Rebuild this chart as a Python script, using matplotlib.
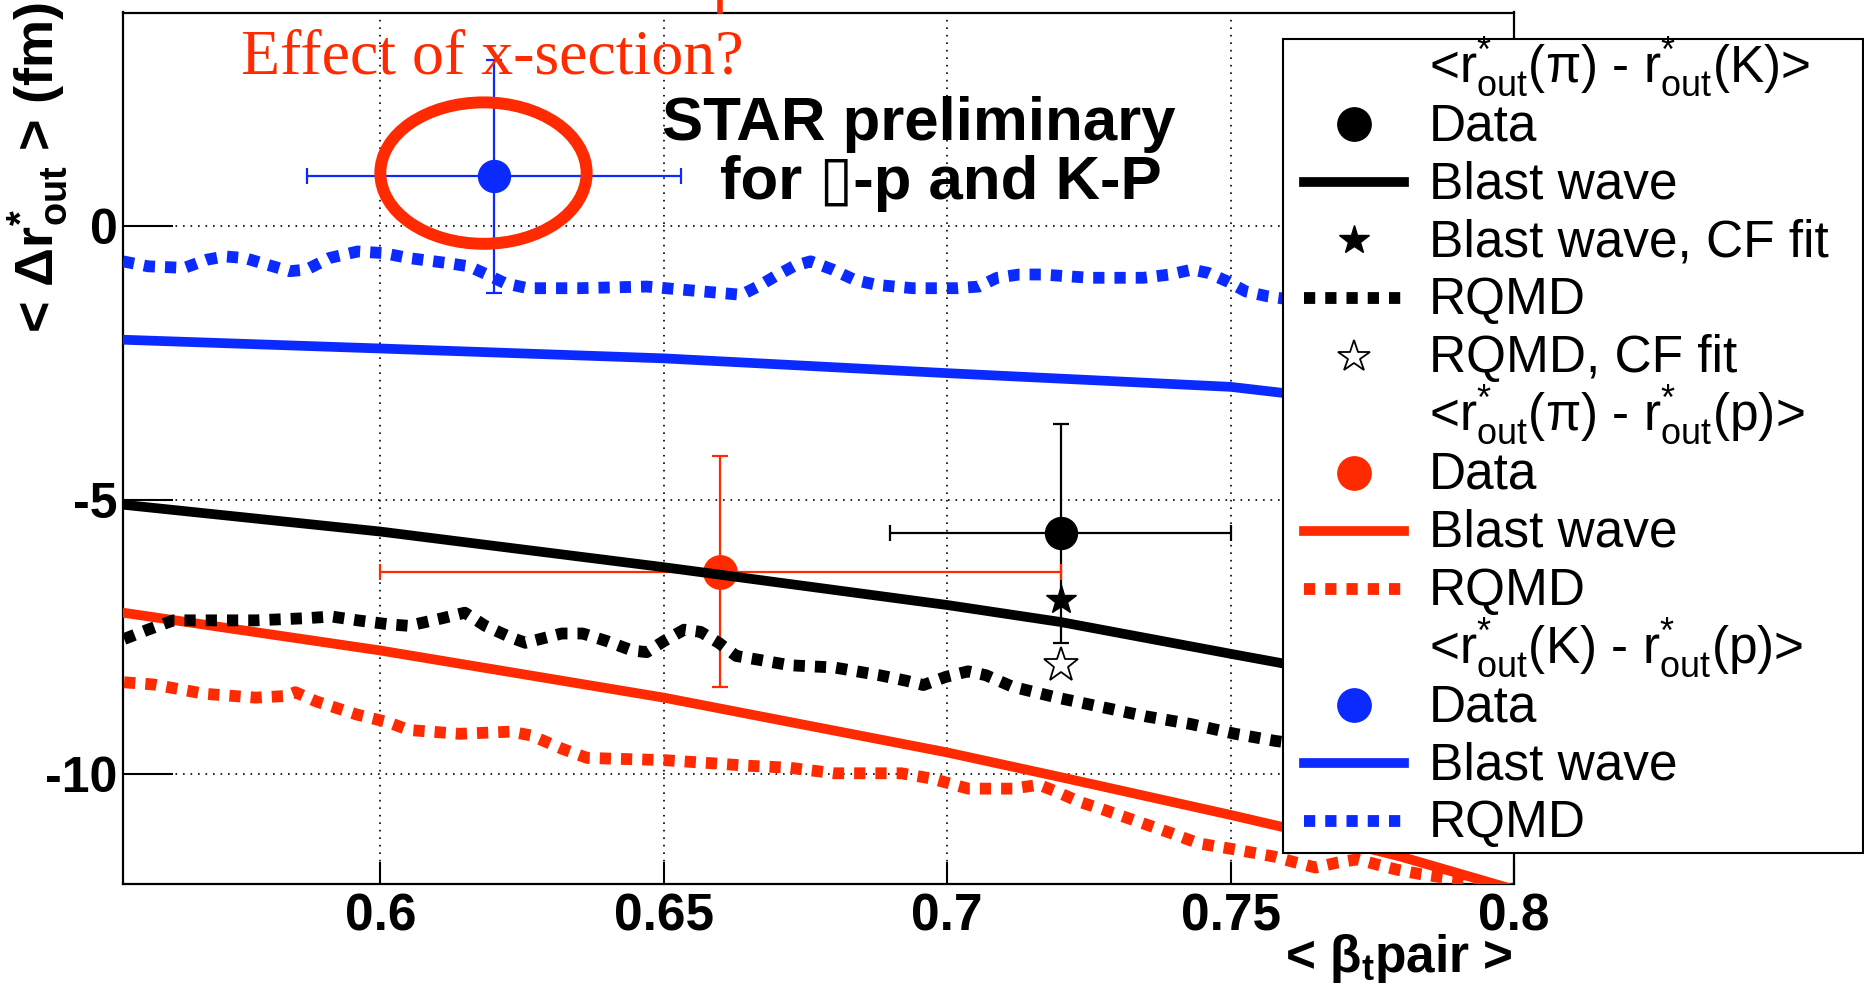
import matplotlib
matplotlib.use('Agg')
import matplotlib.pyplot as plt
from matplotlib.lines import Line2D
from matplotlib.patches import Ellipse, Rectangle

plt.rcParams['font.family'] = ['Liberation Sans', 'DejaVu Sans']
plt.rcParams['mathtext.fontset'] = 'custom'
plt.rcParams['mathtext.rm'] = 'Liberation Sans'
plt.rcParams['mathtext.bf'] = 'Liberation Sans:bold'
plt.rcParams['mathtext.it'] = 'Liberation Sans:italic'
plt.rcParams['axes.unicode_minus'] = False

RED = '#ff2a00'
BLUE = '#0a2aff'

# ---------------- data ----------------
# measured points: < beta_t pair >, < delta r*_out > (fm)
pik_x, pik_xerr, pik_y, pik_yerr = [0.72], [0.03], [-5.6], [2.0]
pip_x, pip_xerr, pip_y, pip_yerr = [0.66], [0.06], [-6.3], [2.1]
kp_x, kp_xerr, kp_y, kp_yerr = [0.62], [0.033], [0.91], [2.13]

# CF-fit results for pi-K
cf_x = [0.72]
bw_cf_y = [-6.82]
rqmd_cf_y = [-8.01]

# blast wave curves
bw_x = [0.5546, 0.60, 0.65, 0.70, 0.72, 0.75, 0.76, 0.78, 0.79, 0.80]
bw_pik = [-5.08, -5.57, -6.22, -6.91, -7.22, -7.80, -7.99, -8.35, -8.55, -8.80]
bw_pip = [-7.05, -7.74, -8.60, -9.60, -10.05, -10.74, -10.98, -11.50, -11.80, -12.10]
bw_kp = [-2.07, -2.23, -2.41, -2.68, -2.78, -2.93, -3.05, -3.15, -3.25, -3.35]

# RQMD curves
rq_kp_x = [0.5546, 0.559, 0.5654, 0.5694, 0.5725, 0.5761, 0.580, 0.584, 0.587, 0.591,
           0.596, 0.6006, 0.605, 0.6117, 0.6156, 0.6188, 0.622, 0.626, 0.635, 0.647,
           0.657, 0.6637, 0.6666, 0.6697, 0.6729, 0.6759, 0.6798, 0.6837, 0.6876, 0.6939,
           0.7017, 0.7056, 0.7088, 0.7127, 0.7166, 0.7252, 0.7346, 0.7393, 0.7432, 0.746,
           0.7495, 0.7527, 0.7566, 0.765]
rq_kp_y = [-0.64, -0.73, -0.76, -0.61, -0.55, -0.58, -0.70, -0.82, -0.79, -0.58,
           -0.46, -0.49, -0.58, -0.67, -0.73, -0.88, -1.04, -1.13, -1.13, -1.10,
           -1.19, -1.25, -1.10, -0.91, -0.73, -0.64, -0.79, -0.98, -1.07, -1.13,
           -1.13, -1.10, -0.94, -0.88, -0.88, -0.94, -0.94, -0.88, -0.79, -0.85,
           -1.01, -1.19, -1.28, -1.40]

rq_pik_x = [0.5548, 0.559, 0.5635, 0.569, 0.578, 0.587, 0.5914, 0.596, 0.6013, 0.605,
            0.611, 0.6149, 0.6185, 0.623, 0.6256, 0.632, 0.6357, 0.640, 0.6444, 0.647,
            0.650, 0.6536, 0.6565, 0.6597, 0.6628, 0.6668, 0.6723, 0.6801, 0.688, 0.6927,
            0.6958, 0.6998, 0.7037, 0.7068, 0.7115, 0.7194, 0.7272, 0.735, 0.7429, 0.7508,
            0.7579, 0.766]
rq_pik_y = [-7.53, -7.36, -7.19, -7.19, -7.19, -7.15, -7.12, -7.19, -7.26, -7.29,
            -7.15, -7.05, -7.29, -7.50, -7.60, -7.43, -7.43, -7.57, -7.74, -7.77,
            -7.57, -7.36, -7.40, -7.60, -7.84, -7.91, -8.01, -8.05, -8.19, -8.29,
            -8.37, -8.22, -8.12, -8.19, -8.40, -8.60, -8.77, -8.94, -9.08, -9.26,
            -9.39, -9.50]

rq_pip_x = [0.5548, 0.560, 0.569, 0.578, 0.5833, 0.585, 0.5887, 0.5959, 0.6014, 0.605,
            0.614, 0.623, 0.6266, 0.632, 0.6365, 0.650, 0.659, 0.6644, 0.6723, 0.6801,
            0.6919, 0.6974, 0.7037, 0.7115, 0.7162, 0.7194, 0.7233, 0.7272, 0.7311, 0.735,
            0.7397, 0.7444, 0.7508, 0.7577, 0.7612, 0.765, 0.7688, 0.7724, 0.776, 0.7794,
            0.7835, 0.7882, 0.792, 0.7948, 0.800]
rq_pip_y = [-8.32, -8.36, -8.53, -8.60, -8.57, -8.50, -8.67, -8.91, -9.05, -9.19,
            -9.26, -9.22, -9.29, -9.53, -9.70, -9.74, -9.80, -9.84, -9.88, -9.98,
            -9.98, -10.08, -10.26, -10.26, -10.19, -10.32, -10.50, -10.63, -10.77, -10.91,
            -11.08, -11.26, -11.37, -11.50, -11.60, -11.70, -11.61, -11.55, -11.65, -11.74,
            -11.82, -11.89, -11.94, -12.02, -12.15]

# ellipse around the K-p point
ell_center = (0.6182, 0.97)
ell_w, ell_h = 0.0364, 2.58

x_ticks = [0.6, 0.65, 0.7, 0.75, 0.8]
x_ticklabels = ['0.6', '0.65', '0.7', '0.75', '0.8']
y_ticks = [-10, -5, 0]
y_ticklabels = ['-10', '-5', '0']

# legend entries: (kind, colour, text)
legend_rows = [
    ('head', 'black', r'<r$^{*}_{\rm out}$(π) - r$^{*}_{\rm out}$(K)>'),
    ('data', 'black', 'Data'),
    ('bw', 'black', 'Blast wave'),
    ('bwcf', 'black', 'Blast wave, CF fit'),
    ('rq', 'black', 'RQMD'),
    ('rqcf', 'black', 'RQMD, CF fit'),
    ('head', 'black', r'<r$^{*}_{\rm out}$(π) - r$^{*}_{\rm out}$(p)>'),
    ('data', RED, 'Data'),
    ('bw', RED, 'Blast wave'),
    ('rq', RED, 'RQMD'),
    ('head', 'black', r'<r$^{*}_{\rm out}$(K) - r$^{*}_{\rm out}$(p)>'),
    ('data', BLUE, 'Data'),
    ('bw', BLUE, 'Blast wave'),
    ('rq', BLUE, 'RQMD'),
]

W, H = 1864, 992
fig = plt.figure(figsize=(W / 100, H / 100), dpi=100)
ax = fig.add_axes([123 / W, 1 - 884 / H, (1514 - 123) / W, (884 - 12.5) / H])

BW_LW = 7
RQ_LW = 8.5
dot = (0, (0.95, 0.85))

# data points (lines are drawn over them, as in the original)
eb = dict(fmt='o', elinewidth=1.6, capsize=6, capthick=1.6, zorder=2)
ax.errorbar(pik_x, pik_y, xerr=pik_xerr, yerr=pik_yerr, color='black', ms=23, **eb)
ax.errorbar(pip_x, pip_y, xerr=pip_xerr, yerr=pip_yerr, color=RED, ms=24, **eb)
ax.errorbar(kp_x, kp_y, xerr=kp_xerr, yerr=kp_yerr, color=BLUE, ms=23, **eb)

ax.plot(bw_x, bw_pik, color='black', lw=BW_LW, zorder=3)
ax.plot(bw_x, bw_pip, color=RED, lw=BW_LW, zorder=3)
ax.plot(bw_x, bw_kp, color=BLUE, lw=BW_LW, zorder=3)
ax.plot(rq_pik_x, rq_pik_y, color='black', lw=RQ_LW, ls=dot, dash_capstyle='butt', zorder=3)
ax.plot(rq_pip_x, rq_pip_y, color=RED, lw=RQ_LW, ls=dot, dash_capstyle='butt', zorder=3)
ax.plot(rq_kp_x, rq_kp_y, color=BLUE, lw=RQ_LW, ls=dot, dash_capstyle='butt', zorder=3)

ax.plot(cf_x, bw_cf_y, ls='none', marker='*', ms=22, color='black', zorder=4)
ax.plot(cf_x, rqmd_cf_y, ls='none', marker='*', ms=26, mfc='white', mec='black', mew=1.3, zorder=4)

ax.add_patch(Ellipse(ell_center, ell_w, ell_h, fill=False, edgecolor=RED, lw=8.6, zorder=5))

ax.set_xlim(0.5546, 0.7996)
ax.set_ylim(-12.0, 3.9)
ax.set_xticks(x_ticks)
ax.set_xticklabels(x_ticklabels, fontsize=37, fontweight='bold')
ax.set_yticks(y_ticks)
ax.set_yticklabels(y_ticklabels, fontsize=36, fontweight='bold')
ax.tick_params(axis='x', direction='in', length=16, width=1.5, pad=6)
ax.tick_params(axis='y', direction='in', length=36, width=1.5, pad=4)
ax.grid(True, color='black', lw=1.2, ls=(0, (1, 3.5)), zorder=1)
for sp in ax.spines.values():
    sp.set_linewidth(1.6)

fig.text(1513 / W, 1 - 972 / H, r'< β$_{\mathbf{t}}$pair >', ha='right', va='baseline',
         fontsize=37, fontweight='bold')
fig.text(37 / W, 1 - 2 / H, r'< Δr$^{\mathbf{*}}_{\mathbf{out}}$ > (fm)', rotation=90,
         ha='center', va='top', fontsize=39, fontweight='bold')

fig.text(662 / W, 1 - 140 / H, 'STAR preliminary', fontsize=44.5, fontweight='bold', va='baseline')
fig.text(720 / W, 1 - 199 / H, 'for \u25af-p and K-P', fontsize=44.5, fontweight='bold', va='baseline')
fig.text(241 / W, 1 - 74 / H, 'Effect of x-section?', fontsize=46, color=RED,
         family='Liberation Serif', va='baseline')
fig.add_artist(Line2D([720 / W, 720 / W], [1.0, 1 - 11 / H], color=RED, lw=4))

# legend box, drawn by hand so the rows keep an even pitch
tf = fig.transFigure
fig.add_artist(Rectangle((1283 / W, 1 - 853 / H), (1863 - 1283) / W, (853 - 39) / H,
                         transform=tf, facecolor='white', edgecolor='black', lw=1.5, zorder=10))
hx0, hx1, hxm = 1304 / W, 1404 / W, 1354 / W
for i, (kind, c, text) in enumerate(legend_rows):
    yb = 1 - (82 + 58.1 * i) / H
    yc = yb + 16 / H
    if kind == 'data':
        fig.add_artist(Line2D([hxm], [yc], transform=tf, ls='none', marker='o', ms=24,
                              color=c, zorder=11))
    elif kind == 'bw':
        fig.add_artist(Line2D([hx0, hx1], [yc, yc], transform=tf, color=c, lw=BW_LW, zorder=11))
    elif kind == 'rq':
        fig.add_artist(Line2D([hx0, hx1], [yc, yc], transform=tf, color=c, lw=RQ_LW, ls=dot,
                              dash_capstyle='butt', zorder=11))
    elif kind == 'bwcf':
        fig.add_artist(Line2D([hxm], [yc], transform=tf, ls='none', marker='*', ms=22,
                              color=c, zorder=11))
    elif kind == 'rqcf':
        fig.add_artist(Line2D([hxm], [yc], transform=tf, ls='none', marker='*', ms=24,
                              mfc='white', mec=c, mew=1.3, zorder=11))
    fig.text(1429 / W, yb, text, fontsize=37, va='baseline', zorder=12)

fig.savefig('out.png', dpi=100)
